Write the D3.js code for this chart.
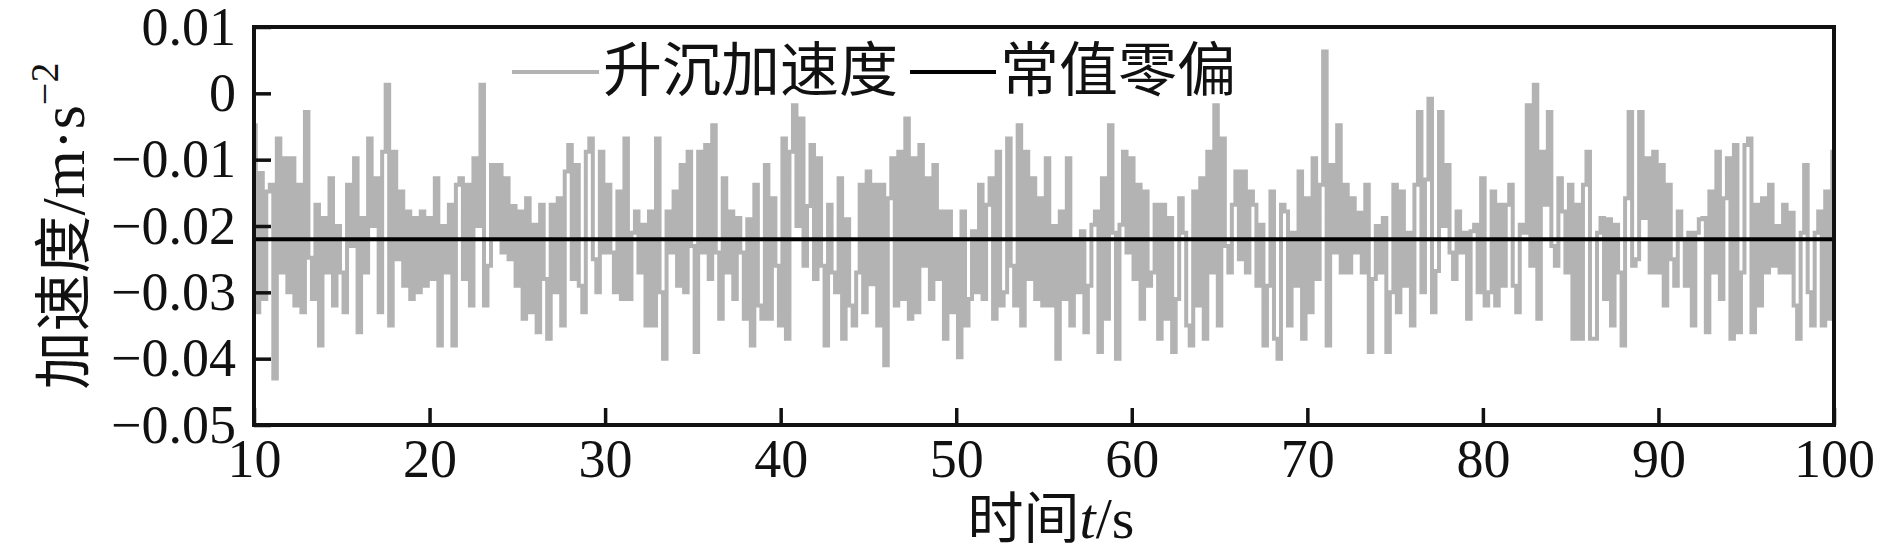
<!DOCTYPE html>
<html>
<head>
<meta charset="utf-8">
<script src="https://cdn.jsdelivr.net/npm/d3@7"></script>
<style>
  html, body { margin: 0; padding: 0; background: #fff; }
  svg { display: block; }
</style>
</head>
<body>
<svg id="chart" width="1890" height="553"></svg>
<script>
// ---------------- data ----------------
const sampleStart = 10;      // s
const samplePeriod = 0.2;    // s
const biasValue = -0.022;    // constant zero bias (m/s^2)

const heaveSeg1 = [ // t = 10.0 .. 27.8
-0.0048, -0.0330, -0.0120, -0.0310, -0.0148, -0.0138, -0.0430, -0.0068, -0.0270, -0.0098,
-0.0300, -0.0098, -0.0320, -0.0138, -0.0330, -0.0028, -0.0248, -0.0310, -0.0168, -0.0380,
-0.0188, -0.0270, -0.0128, -0.0320, -0.0200, -0.0270, -0.0330, -0.0138, -0.0230, -0.0098,
-0.0360, -0.0188, -0.0270, -0.0068, -0.0200, -0.0128, -0.0330, -0.0088, 0.0013, -0.0350,
-0.0088, -0.0250, -0.0148, -0.0290, -0.0178, -0.0310, -0.0188, -0.0300, -0.0178, -0.0290,
-0.0188, -0.0280, -0.0128, -0.0380, -0.0200, -0.0270, -0.0168, -0.0380, -0.0138, -0.0128,
-0.0280, -0.0138, -0.0320, -0.0098, -0.0200, 0.0013, -0.0320, -0.0260, -0.0108, -0.0220,
-0.0108, -0.0240, -0.0128, -0.0250, -0.0170, -0.0290, -0.0178, -0.0340, -0.0158, -0.0330,
-0.0198, -0.0360, -0.0168, -0.0280, -0.0370, -0.0168, -0.0300, -0.0158, -0.0350, -0.0118];

const heaveSeg2 = [ // t = 28.0 .. 45.8
-0.0078, -0.0280, -0.0108, -0.0290, -0.0330, -0.0088, -0.0068, -0.0250, -0.0300, -0.0088,
-0.0240, -0.0138, -0.0240, -0.0300, -0.0148, -0.0310, -0.0068, -0.0310, -0.0210, -0.0178,
-0.0270, -0.0198, -0.0350, -0.0178, -0.0350, -0.0068, -0.0300, -0.0400, -0.0178, -0.0240,
-0.0148, -0.0290, -0.0108, -0.0300, -0.0088, -0.0230, -0.0390, -0.0088, -0.0240, -0.0078,
-0.0280, -0.0048, -0.0240, -0.0340, -0.0128, -0.0270, -0.0178, -0.0310, -0.0188, -0.0240,
-0.0340, -0.0190, -0.0380, -0.0138, -0.0320, -0.0340, -0.0108, -0.0340, -0.0158, -0.0260,
-0.0350, -0.0068, -0.0370, -0.0088, -0.0018, -0.0200, -0.0038, -0.0260, -0.0170, -0.0078,
-0.0280, -0.0098, -0.0260, -0.0380, -0.0168, -0.0270, -0.0300, -0.0128, -0.0370, -0.0190,
-0.0320, -0.0350, -0.0270, -0.0138, -0.0330, -0.0118, -0.0288, -0.0138, -0.0350, -0.0138];

const heaveSeg3 = [ // t = 46.0 .. 63.8
-0.0410, -0.0158, -0.0098, -0.0320, -0.0088, -0.0310, -0.0038, -0.0340, -0.0098, -0.0330,
-0.0078, -0.0260, -0.0128, -0.0310, -0.0108, -0.0280, -0.0178, -0.0370, -0.0178, -0.0330,
-0.0220, -0.0398, -0.0178, -0.0350, -0.0310, -0.0208, -0.0300, -0.0138, -0.0310, -0.0168,
-0.0128, -0.0340, -0.0088, -0.0320, -0.0300, -0.0068, -0.0260, -0.0320, -0.0048, -0.0350,
-0.0088, -0.0280, -0.0128, -0.0310, -0.0158, -0.0320, -0.0098, -0.0320, -0.0200, -0.0400,
-0.0178, -0.0310, -0.0098, -0.0350, -0.0220, -0.0300, -0.0208, -0.0360, -0.0290, -0.0198,
-0.0178, -0.0390, -0.0128, -0.0340, -0.0048, -0.0210, -0.0400, -0.0198, -0.0088, -0.0240,
-0.0098, -0.0280, -0.0138, -0.0340, -0.0148, -0.0290, -0.0270, -0.0168, -0.0370, -0.0168,
-0.0340, -0.0188, -0.0390, -0.0310, -0.0158, -0.0210, -0.0350, -0.0380, -0.0148, -0.0320];

const heaveSeg4 = [ // t = 64.0 .. 81.8
-0.0128, -0.0370, -0.0088, -0.0270, -0.0018, -0.0350, -0.0068, -0.0230, -0.0270, -0.0168,
-0.0118, -0.0250, -0.0118, -0.0270, -0.0148, -0.0168, -0.0290, -0.0198, -0.0380, -0.0290,
-0.0148, -0.0370, -0.0400, -0.0168, -0.0178, -0.0350, -0.0210, -0.0290, -0.0118, -0.0370,
-0.0158, -0.0330, -0.0098, -0.0280, -0.0138, 0.0063, -0.0380, -0.0108, -0.0240, -0.0048,
-0.0270, -0.0138, -0.0270, -0.0158, -0.0240, -0.0180, -0.0270, -0.0138, -0.0390, -0.0280,
-0.0200, -0.0270, -0.0188, -0.0390, -0.0300, -0.0138, -0.0330, -0.0148, -0.0290, -0.0210,
-0.0350, -0.0138, -0.0028, -0.0300, -0.0130, -0.0008, -0.0330, -0.0268, -0.0028, -0.0200,
-0.0108, -0.0240, -0.0280, -0.0178, -0.0240, -0.0210, -0.0340, -0.0208, -0.0198, -0.0300,
-0.0128, -0.0320, -0.0300, -0.0148, -0.0320, -0.0168, -0.0290, -0.0168, -0.0138, -0.0290];

const heaveSeg5 = [ // t = 82.0 .. 100.0
-0.0330, -0.0198, -0.0210, -0.0018, -0.0260, 0.0013, -0.0340, -0.0088, -0.0168, -0.0028,
-0.0230, -0.0260, -0.0128, -0.0178, -0.0270, -0.0138, -0.0370, -0.0168, -0.0370, -0.0138,
-0.0088, -0.0370, -0.0370, -0.0210, -0.0188, -0.0310, -0.0190, -0.0350, -0.0198, -0.0270,
-0.0380, -0.0158, -0.0028, -0.0260, -0.0250, -0.0028, -0.0188, -0.0098, -0.0270, -0.0088,
-0.0270, -0.0108, -0.0320, -0.0138, -0.0250, -0.0290, -0.0178, -0.0220, -0.0290, -0.0210,
-0.0350, -0.0210, -0.0190, -0.0188, -0.0360, -0.0148, -0.0270, -0.0088, -0.0310, -0.0158,
-0.0098, -0.0370, -0.0078, -0.0360, -0.0270, -0.0078, -0.0068, -0.0360, -0.0168, -0.0320,
-0.0158, -0.0270, -0.0138, -0.0260, -0.0200, -0.0270, -0.0168, -0.0270, -0.0180, -0.0320,
-0.0370, -0.0210, -0.0108, -0.0300, -0.0350, -0.0210, -0.0178, -0.0350, -0.0148, -0.0340,
-0.0088];

const xTicks = [10, 20, 30, 40, 50, 60, 70, 80, 90, 100];
const xTickLabels = ["10", "20", "30", "40", "50", "60", "70", "80", "90", "100"];
const yTicks = [0.01, 0, -0.01, -0.02, -0.03, -0.04, -0.05];
const yTickLabels = ["0.01", "0", "\u22120.01", "\u22120.02", "\u22120.03", "\u22120.04", "\u22120.05"];
const legendLabels = ["升沉加速度", "常值零偏"];

// ---------------- build ----------------
const heaveValues = [].concat(heaveSeg1, heaveSeg2, heaveSeg3, heaveSeg4, heaveSeg5);
const heave = heaveValues.map((v, i) => ({ t: sampleStart + i * samplePeriod, v }));

const W = 1890, H = 553;
const M = { left: 254, right: W - 1834, top: 27, bottom: H - 425 };
const iw = W - M.left - M.right, ih = H - M.top - M.bottom;

const SERIF = "'Liberation Serif', 'Times New Roman', serif";
const CJK = "'Noto Sans CJK SC', sans-serif";
const GRAY = "#b3b3b3";

const svg = d3.select("#chart");
const x = d3.scaleLinear().domain([10, 100]).range([M.left, M.left + iw]);
const y = d3.scaleLinear().domain([-0.05, 0.01]).range([M.top + ih, M.top]);

svg.append("defs").append("clipPath").attr("id", "clip")
  .append("rect").attr("x", M.left).attr("y", M.top).attr("width", iw).attr("height", ih);

const plot = svg.append("g").attr("clip-path", "url(#clip)");

plot.append("path")
  .datum(heave)
  .attr("fill", "none")
  .attr("stroke", GRAY)
  .attr("stroke-width", 4)
  .attr("stroke-linejoin", "miter")
  .attr("d", d3.line().curve(d3.curveStep).x(d => x(d.t)).y(d => y(d.v)));

plot.append("line")
  .attr("x1", x(10)).attr("x2", x(100))
  .attr("y1", y(biasValue)).attr("y2", y(biasValue))
  .attr("stroke", "#000").attr("stroke-width", 4);

// axes
const xAxis = d3.axisBottom(x).tickValues(xTicks)
  .tickFormat((d, i) => xTickLabels[i]).tickSizeInner(-17).tickSizeOuter(0).tickPadding(14);
const yAxis = d3.axisLeft(y).tickValues(yTicks)
  .tickFormat((d, i) => yTickLabels[i]).tickSizeInner(-17).tickSizeOuter(0).tickPadding(18);

const gx = svg.append("g").attr("transform", `translate(0,${M.top + ih})`).call(xAxis);
const gy = svg.append("g").attr("transform", `translate(${M.left},0)`).call(yAxis);
[gx, gy].forEach(g => {
  g.select(".domain").remove();
  g.selectAll(".tick line").attr("stroke", "#111").attr("stroke-width", 3.5);
  g.selectAll(".tick text").attr("fill", "#111").attr("font-family", SERIF).attr("font-size", 54);
});

// frame
svg.append("rect")
  .attr("x", M.left).attr("y", M.top).attr("width", iw).attr("height", ih)
  .attr("fill", "none").attr("stroke", "#111").attr("stroke-width", 4);

// legend
const leg = svg.append("g");
leg.append("line").attr("x1", 512).attr("x2", 599).attr("y1", 72).attr("y2", 72)
  .attr("stroke", GRAY).attr("stroke-width", 4);
leg.append("text").attr("x", 603).attr("y", 91).attr("font-family", CJK).attr("font-size", 59)
  .attr("fill", "#111").text(legendLabels[0]);
leg.append("line").attr("x1", 910).attr("x2", 996).attr("y1", 72).attr("y2", 72)
  .attr("stroke", "#000").attr("stroke-width", 4);
leg.append("text").attr("x", 1000).attr("y", 91).attr("font-family", CJK).attr("font-size", 59)
  .attr("fill", "#111").text(legendLabels[1]);

// y title
const yt = svg.append("text")
  .attr("transform", `translate(84,226) rotate(-90)`)
  .attr("text-anchor", "middle").attr("fill", "#111");
yt.append("tspan").attr("font-family", CJK).attr("font-size", 58).text("加速度");
yt.append("tspan").attr("font-family", SERIF).attr("font-size", 62).text("/m\u00B7s");
yt.append("tspan").attr("font-family", SERIF).attr("font-size", 40).attr("dy", -26).text("\u22122");

// x title
const xt = svg.append("text")
  .attr("x", 1051).attr("y", 538)
  .attr("text-anchor", "middle").attr("fill", "#111");
xt.append("tspan").attr("font-family", CJK).attr("font-size", 56).text("时间");
xt.append("tspan").attr("font-family", SERIF).attr("font-size", 58).attr("font-style", "italic").text("t");
xt.append("tspan").attr("font-family", SERIF).attr("font-size", 58).text("/s");
</script>
</body>
</html>
